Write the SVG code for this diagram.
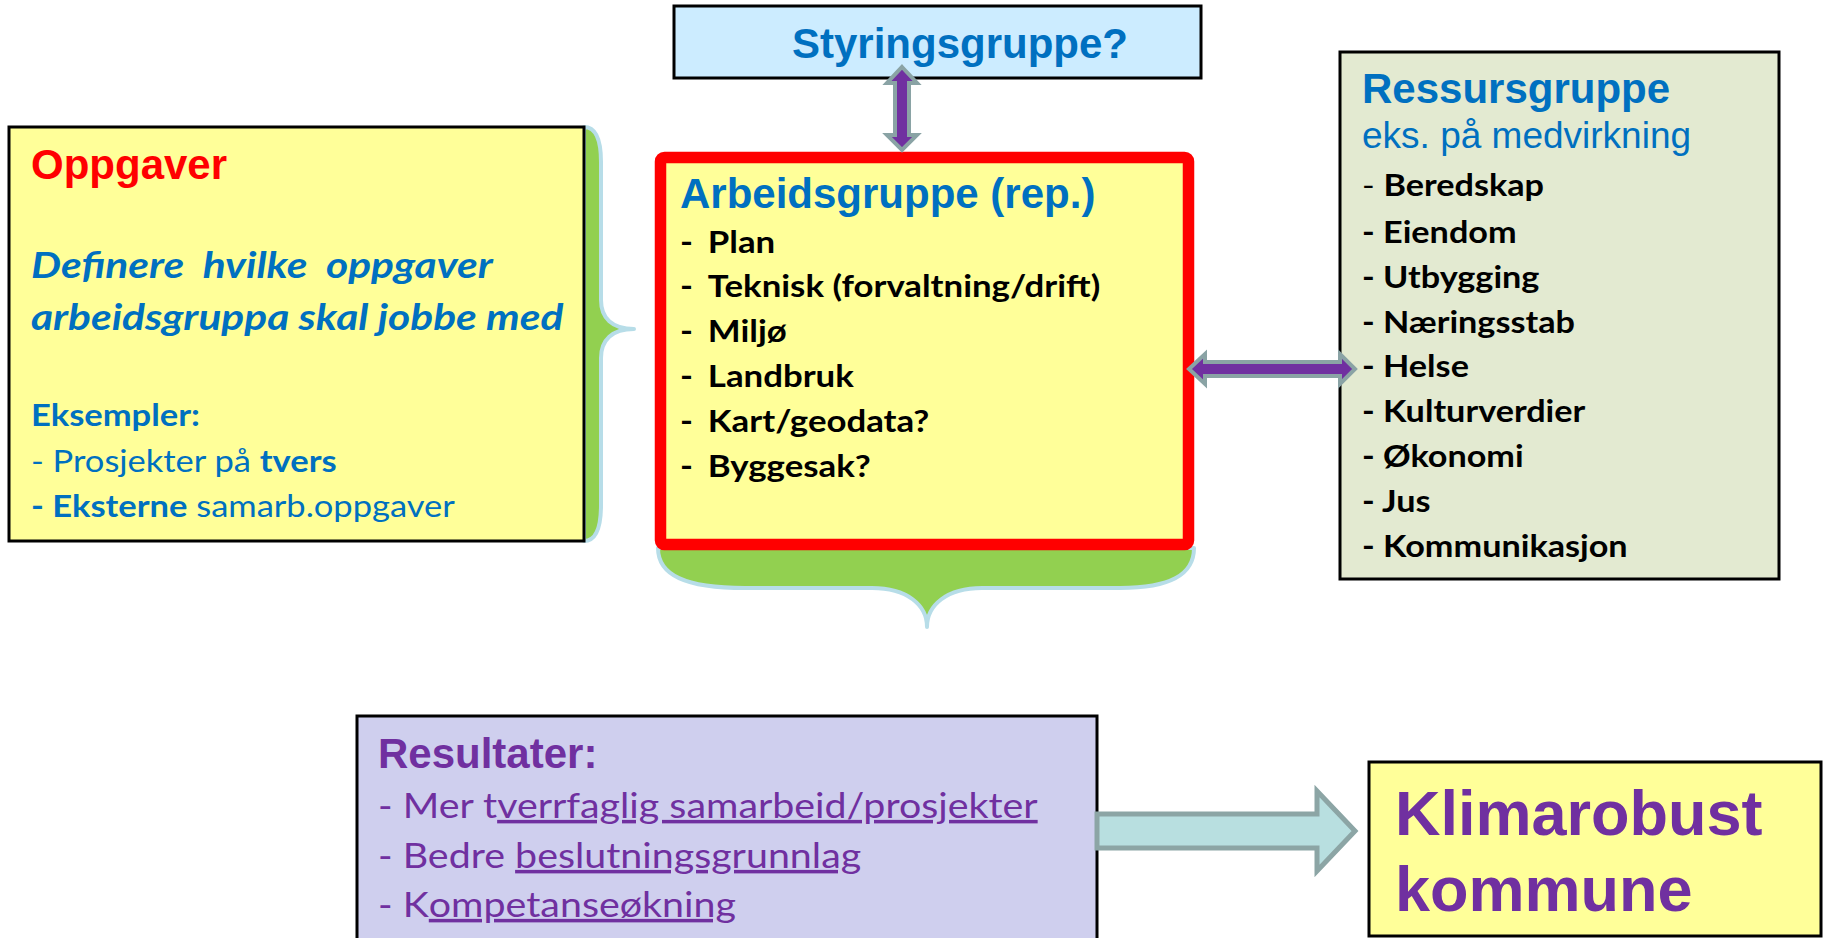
<svg xmlns="http://www.w3.org/2000/svg" width="1823" height="938" viewBox="0 0 1823 938">
<style>
.hd{font-family:"Liberation Sans",Arial,sans-serif;font-weight:bold}
.ar{font-family:"Liberation Sans",Arial,sans-serif}
.cb{font-family:Lato,"Open Sans",sans-serif;font-weight:bold}
.cr{font-family:Lato,"Open Sans",sans-serif;font-weight:normal}
.blue{fill:#0070C0}
.pur{fill:#7030A0}
.blk{fill:#000}
.brace{fill:#92D050;stroke:#B7DDE8;stroke-width:4;stroke-linejoin:round}
.dbl{fill:#7030A0;stroke:#8AA3A5;stroke-width:4;stroke-linejoin:miter}
.box{stroke:#000;stroke-width:3}
</style>
<rect width="1823" height="938" fill="#fff"/>

<g id="braces">
<path class="brace" d="M584,127 C596,127 601,140 601,162 L601,300 C601,318 612,329 634,329 C612,329 601,340 601,358 L601,505 C601,528 596,541 584,541 Z"/>
<path class="brace" d="M658,548 C658,575 685,588 745,588 L872,588 C907,588 927,605 927,627 C927,605 947,588 982,588 L1120,588 C1170,588 1194,575 1194,548 Z"/>
</g>

<g id="oppgaver">
<rect class="box" x="9" y="127" width="575" height="414" fill="#FFFF99" stroke-width="2.5"/>
<text class="hd" x="31" y="179" font-size="42" fill="#FF0000">Oppgaver</text>
<g transform="translate(31,0) scale(1.18,1) translate(-31,0)">
<text class="cb blue" x="31" y="278" font-size="36" font-style="italic" xml:space="preserve">Definere  hvilke  oppgaver</text>
<text class="cb blue" x="31" y="330" font-size="36" font-style="italic">arbeidsgruppa skal jobbe med</text>
</g>
<g transform="translate(31,0) scale(1.15,1) translate(-31,0)">
<text class="cb blue" x="31" y="426" font-size="30">Eksempler:</text>
<text class="cr blue" x="31" y="472" font-size="30">- Prosjekter på <tspan class="cb">tvers</tspan></text>
<text class="cr blue" x="31" y="517" font-size="30"><tspan class="cb">- Eksterne</tspan> samarb.oppgaver</text>
</g>
</g>

<g id="styringsgruppe">
<rect class="box" x="674" y="6" width="527" height="72" fill="#CCECFF"/>
<text class="hd blue" x="792" y="58" font-size="42">Styringsgruppe?</text>
</g>

<g id="arbeidsgruppe">
<rect x="660.5" y="157.5" width="528" height="387" rx="4" fill="#FFFF99" stroke="#FF0000" stroke-width="11.5"/>
<text class="hd blue" x="680" y="208" font-size="42">Arbeidsgruppe (rep.)</text>
<g class="cb blk" font-size="30" transform="translate(680,0) scale(1.16,1) translate(-680,0)">
<text x="680" y="253">-</text><text x="704" y="253">Plan</text>
<text x="680" y="297">-</text><text x="704" y="297">Teknisk (forvaltning/drift)</text>
<text x="680" y="342">-</text><text x="704" y="342">Miljø</text>
<text x="680" y="387">-</text><text x="704" y="387">Landbruk</text>
<text x="680" y="432">-</text><text x="704" y="432">Kart/geodata?</text>
<text x="680" y="477">-</text><text x="704" y="477">Byggesak?</text>
</g>
</g>

<g id="ressursgruppe">
<rect class="box" x="1340" y="52" width="439" height="527" fill="#E3EAD1"/>
<text class="hd blue" x="1362" y="103" font-size="42">Ressursgruppe</text>
<text class="ar blue" x="1362" y="148" font-size="37">eks. på medvirkning</text>
<g class="cb blk" font-size="30" transform="translate(1362,0) scale(1.14,1) translate(-1362,0)">
<text x="1362" y="196" xml:space="preserve"><tspan class="cr">- </tspan>Beredskap</text>
<text x="1362" y="243">- Eiendom</text>
<text x="1362" y="288">- Utbygging</text>
<text x="1362" y="333">- Næringsstab</text>
<text x="1362" y="377">- Helse</text>
<text x="1362" y="422">- Kulturverdier</text>
<text x="1362" y="467">- Økonomi</text>
<text x="1362" y="512">- Jus</text>
<text x="1362" y="557">- Kommunikasjon</text>
</g>
</g>

<g id="resultater">
<rect class="box" x="357" y="716" width="740" height="240" fill="#CFCFEE" stroke-width="2.5"/>
<text class="hd pur" x="378" y="768" font-size="42">Resultater:</text>
<g class="cr pur" font-size="35" transform="translate(378,0) scale(1.125,1) translate(-378,0)">
<text x="378" y="818">- Mer t<tspan text-decoration="underline">verrfaglig samarbeid/prosjekter</tspan></text>
<text x="378" y="868">- Bedre <tspan text-decoration="underline">beslutningsgrunnlag</tspan></text>
<text x="378" y="917">- K<tspan text-decoration="underline">ompetanseøkning</tspan></text>
</g>
</g>

<g id="klimarobust">
<rect class="box" x="1369" y="762" width="452" height="174" fill="#FFFF99"/>
<text class="hd pur" x="1395" y="835" font-size="63">Klimarobust</text>
<text class="hd pur" x="1395" y="911" font-size="63">kommune</text>
</g>

<g id="connectors">
<polygon class="dbl" points="902,67 917,83 909,83 909,135 917,135 902,150 887,135 895,135 895,83 887,83"/>
<polygon class="dbl" points="1189,369 1205,354 1205,362 1340,362 1340,354 1355,369 1340,384 1340,376 1205,376 1205,384"/>
<polygon points="1097,814 1317,814 1317,791 1355,831 1317,871 1317,848 1097,848" fill="#B8DFE0" stroke="#8CA5A5" stroke-width="5"/>
</g>
</svg>
